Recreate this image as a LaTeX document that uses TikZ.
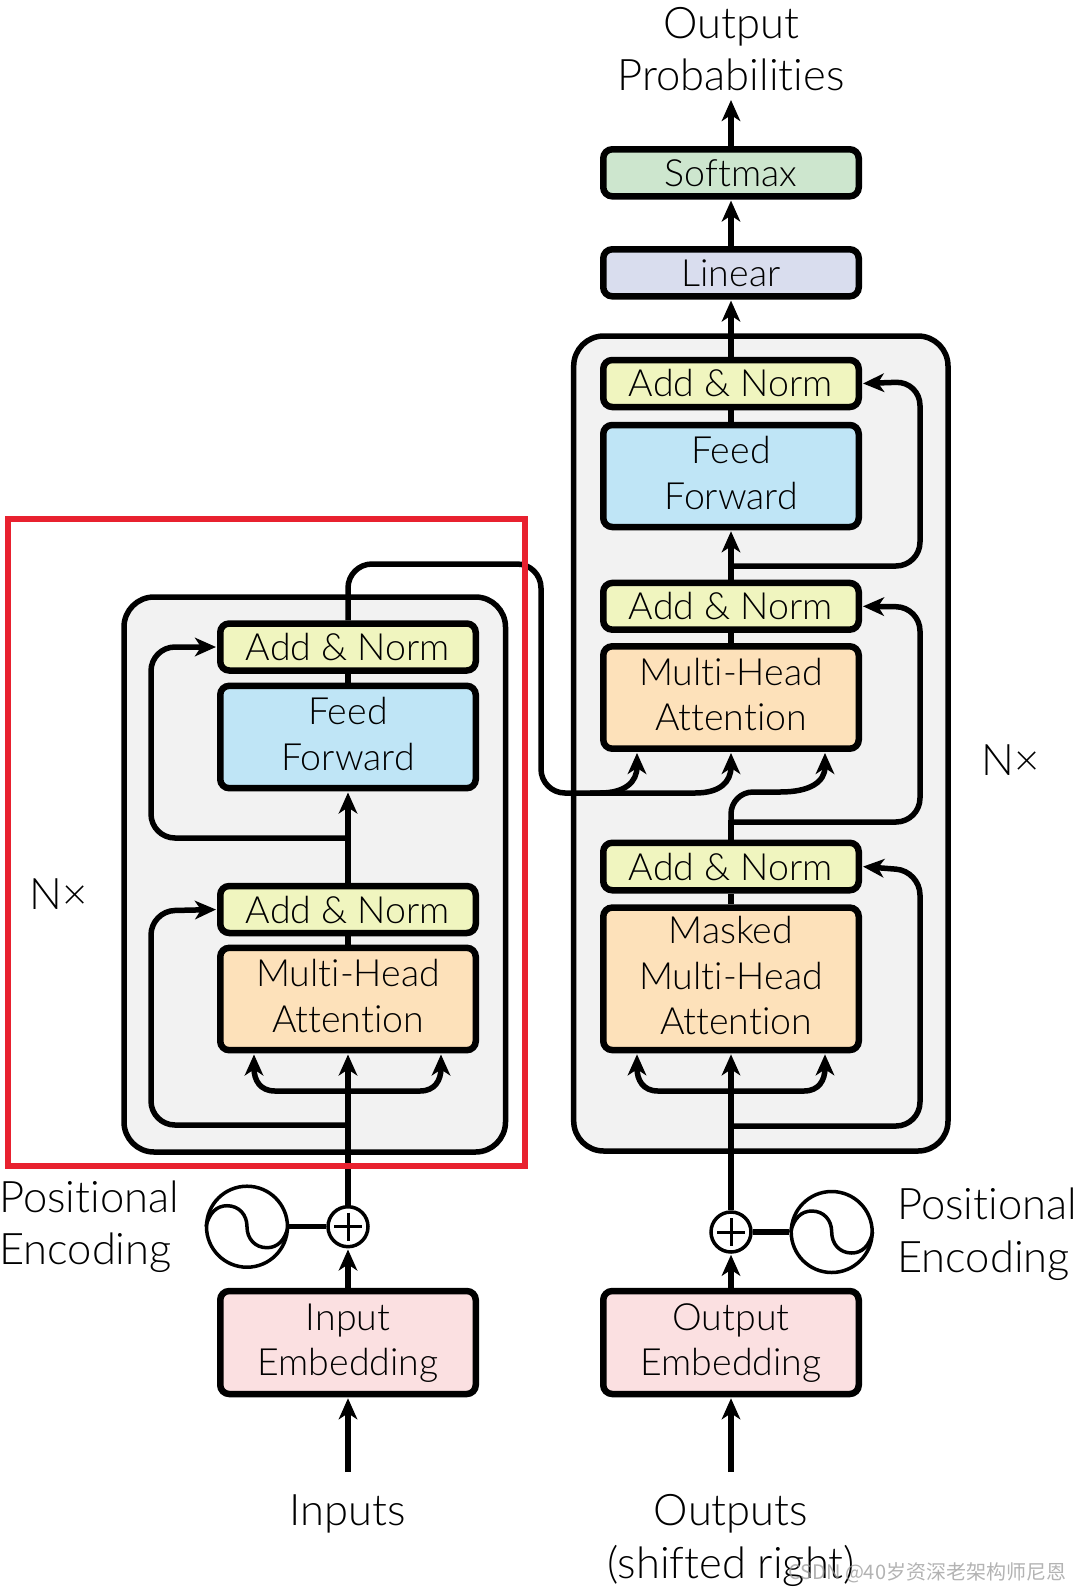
\documentclass[tikz,border=0pt]{standalone}
\usepackage{fontspec}
\setmainfont{Lato Light}[Ligatures=NoCommon]
\newfontfamily\cjkwm{Noto Sans CJK SC}
\usetikzlibrary{arrows.meta,calc}
\definecolor{cgrey}{HTML}{F2F2F2}
\definecolor{cgreen}{HTML}{CDE6CE}
\definecolor{clin}{HTML}{D9DDEE}
\definecolor{cyel}{HTML}{F0F5BF}
\definecolor{cblue}{HTML}{BFE5F6}
\definecolor{corg}{HTML}{FDE1BA}
\definecolor{cpink}{HTML}{FBE0E1}
\definecolor{cred}{HTML}{E8212F}
\tikzset{
  blockbox/.style={draw=black,line width=6.5pt,rounded corners=9pt,minimum width=255.5pt,inner sep=0pt,align=center,
    font=\fontsize{37.5}{45.5}\selectfont},
  multiline/.style={text depth=6pt},
  stack/.style={draw=black,fill=cgrey,line width=5.5pt,rounded corners=30pt},
  wire/.style={draw=black,line width=5.5pt},
  arrw/.style={wire,-{Stealth[length=21pt,width=18.5pt,inset=6pt]},shorten >=1pt},
  loopw/.style={arrw,rounded corners=24pt},
  biglabel/.style={font=\fontsize{43.5}{53}\selectfont,align=center,inner sep=0pt},
  sumnode/.style={circle,draw=black,fill=white,line width=3.5pt,minimum size=40pt,inner sep=0pt},
  sinnode/.style={circle,draw=black,fill=white,line width=3.5pt,minimum size=81pt,inner sep=0pt},
  thin wave/.style={draw=black,line width=3.5pt},
}
\begin{document}
\begin{tikzpicture}[x=1pt,y=-1pt]
\useasboundingbox (0,0) rectangle (1080,1591);
% stacks
\node[stack,minimum width=381.5pt,minimum height=555pt] (estack) at (314.75,874.5) {};
\node[stack,minimum width=374.3pt,minimum height=815pt] (dstack) at (760.85,743.5) {};
% stems under the blocks
\coordinate (einC) at (348,1091);
\coordinate (dinC) at (731,1091);
% encoder blocks
\node[blockbox,multiline,fill=cpink,minimum height=103pt] (einemb) at (348,1342.5) {Input\\Embedding};
\node[blockbox,multiline,fill=corg,minimum height=102.4pt] (emha) at (348,999) {Multi-Head\\Attention};
\node[blockbox,fill=cyel,minimum height=47pt] (eadd1) at (348,909.5) {Add \& Norm};
\node[blockbox,multiline,fill=cblue,minimum height=102.4pt] (eff) at (348,737) {Feed\\Forward};
\node[blockbox,fill=cyel,minimum height=47pt] (eadd2) at (348,647) {Add \& Norm};
% decoder blocks
\node[blockbox,multiline,fill=cpink,minimum height=103pt] (doutemb) at (731,1342.5) {Output\\Embedding};
\node[blockbox,multiline,fill=corg,minimum height=142.5pt] (dmask) at (731,978.8) {Masked\\Multi-Head\\\hspace*{10pt}Attention};
\node[blockbox,fill=cyel,minimum height=47.5pt] (dadd1) at (731,866.5) {Add \& Norm};
\node[blockbox,multiline,fill=corg,minimum height=102.4pt] (dmha) at (731,697.5) {Multi-Head\\Attention};
\node[blockbox,fill=cyel,minimum height=46.7pt] (dadd2) at (731,606.3) {Add \& Norm};
\node[blockbox,multiline,fill=cblue,minimum height=102pt] (dff) at (731,476) {Feed\\Forward};
\node[blockbox,fill=cyel,minimum height=47pt] (dadd3) at (731,383.5) {Add \& Norm};
\node[blockbox,fill=clin,minimum height=47pt] (dlin) at (731,272.8) {Linear};
\node[blockbox,fill=cgreen,minimum height=47pt] (dsoft) at (731,172.8) {Softmax};
% summing nodes and encodings
\node[sumnode] (esum) at (348,1226.7) {};
\node[sinnode] (esin) at (247,1226.7) {};
\node[sumnode] (dsum) at (731,1232) {};
\node[sinnode] (dsin) at (831.7,1232) {};
\foreach \n in {esum,dsum}{
  \draw[black,line width=3pt] ($(\n)+(-14,0)$) -- ($(\n)+(14,0)$);
  \draw[black,line width=3pt] ($(\n)+(0,-14)$) -- ($(\n)+(0,14)$);
}
\foreach \n in {esin,dsin}{
  \draw[thin wave] ($(\n)+(-41,0)$) .. controls ($(\n)+(-38,-14)$) and ($(\n)+(-30,-21)$) .. ($(\n)+(-20,-21)$)
    .. controls ($(\n)+(-8,-21)$) and ($(\n)+(0,-12)$) .. ($(\n)+(0,0)$)
    .. controls ($(\n)+(0,12)$) and ($(\n)+(8,21)$) .. ($(\n)+(20,21)$)
    .. controls ($(\n)+(30,21)$) and ($(\n)+(38,14)$) .. ($(\n)+(41,0)$);
}
\draw[wire] (esin) -- (esum);
\draw[wire] (dsin) -- (dsum);
% labels
\node[biglabel,anchor=base] (oplab) at (731,38) {Output};
\node[biglabel,anchor=base] (prlab) at (731,90) {Probabilities};
\node[biglabel,anchor=base] (inlab) at (348,1525) {Inputs};
\node[biglabel,anchor=base] (outlab) at (731,1525) {Outputs};
\node[biglabel,anchor=base] (shlab) at (731,1578) {(shifted right)};
\node[biglabel,anchor=base west] (pe1) at (-1,1212) {Positional};
\node[biglabel,anchor=base west] (pe2) at (-1,1264) {Encoding};
\node[biglabel,anchor=base west] (pe3) at (897,1219) {Positional};
\node[biglabel,anchor=base west] (pe4) at (897,1272) {Encoding};
\node[biglabel,anchor=base west] (n1) at (29,909) {N\texttimes};
\node[biglabel,anchor=base west] (n2) at (981,775) {N\texttimes};
% free ends
\coordinate (intail) at (348,1472);
\coordinate (outtail) at (731,1472);
\draw[arrw] (intail) -- (einemb.south);
\draw[arrw] (outtail) -- (doutemb.south);
\draw[arrw] (einemb.north) -- (esum.south);
\draw[arrw] (doutemb.north) -- (dsum.south);
% encoder connectors
\draw[arrw] (esum.north) -- (emha.south);
\draw[wire] (emha.north) -- (eadd1.south);
\draw[arrw] (eadd1.north) -- (eff.south);
\draw[wire] (eff.north) -- (eadd2.south);
\path (emha.south) ++(-94,0) coordinate (emhaL);
\path (emha.south) ++(93,0) coordinate (emhaR);
\draw[arrw] (einC) -- (275,1091) .. controls (260,1091) and (254,1080) .. (emhaL);
\draw[arrw] (einC) -- (420,1091) .. controls (435,1091) and (441,1080) .. (emhaR);
\draw[loopw] (348,1125) -- (151,1125) -- (151,911) -- (eadd1.west);
\draw[loopw] (348,838) -- (151,838) -- (151,647) -- (eadd2.west);
% cross connection
\path (dmha.south) ++(-94,0) coordinate (dmhaL);
\path (dmha.south) ++(94,0) coordinate (dmhaR);
\draw[wire,rounded corners=24pt] (eadd2.north) -- (348,564) -- (541,564) -- (541,793) -- (600,793);
\draw[arrw] (600,793) .. controls (625,793) and (637,782) .. (dmhaL);
\draw[arrw] (590,793) -- (695,793) .. controls (720,793) and (731,782) .. (dmha.south);
% decoder connectors
\draw[arrw] (dsum.north) -- (dmask.south);
\draw[wire] (dmask.north) -- (dadd1.south);
\draw[wire] (dadd1.north) -- (731,820);
\draw[wire] (dmha.north) -- (dadd2.south);
\draw[arrw] (dadd2.north) -- (dff.south);
\draw[wire] (dff.north) -- (dadd3.south);
\draw[arrw] (dadd3.north) -- (dlin.south);
\draw[arrw] (dlin.north) -- (dsoft.south);
\coordinate (optip) at (731,100);
\draw[arrw,shorten >=0pt] (dsoft.north) -- (optip);
\path (dmask.south) ++(-94,0) coordinate (dmaskL);
\path (dmask.south) ++(94,0) coordinate (dmaskR);
\draw[arrw] (dinC) -- (658,1091) .. controls (643,1091) and (637,1080) .. (dmaskL);
\draw[arrw] (dinC) -- (804,1091) .. controls (819,1091) and (825,1080) .. (dmaskR);
\draw[wire,rounded corners=22pt] (731,830) -- (731,792) -- (780,792);
\draw[arrw] (780,792) .. controls (810,792) and (825,782) .. (dmhaR);
\draw[loopw] (731,1126) -- (920,1126) -- (920,871) -- (dadd1.east);
\draw[loopw] (731,822) -- (920,822) -- (920,607) -- (dadd2.east);
\draw[loopw] (731,566) -- (920,566) -- (920,381.5) -- (dadd3.east);
% highlight frame
\node[draw=cred,line width=6pt,minimum width=517pt,minimum height=647pt,inner sep=0pt] (frame) at (266.5,842.5) {};
% watermark
\node[anchor=base west,inner sep=0pt,text=black!40,opacity=.75,font=\cjkwm\fontsize{20}{24}\selectfont] (wm) at (788,1579) {CSDN @40岁资深老架构师尼恩};
\end{tikzpicture}
\end{document}
